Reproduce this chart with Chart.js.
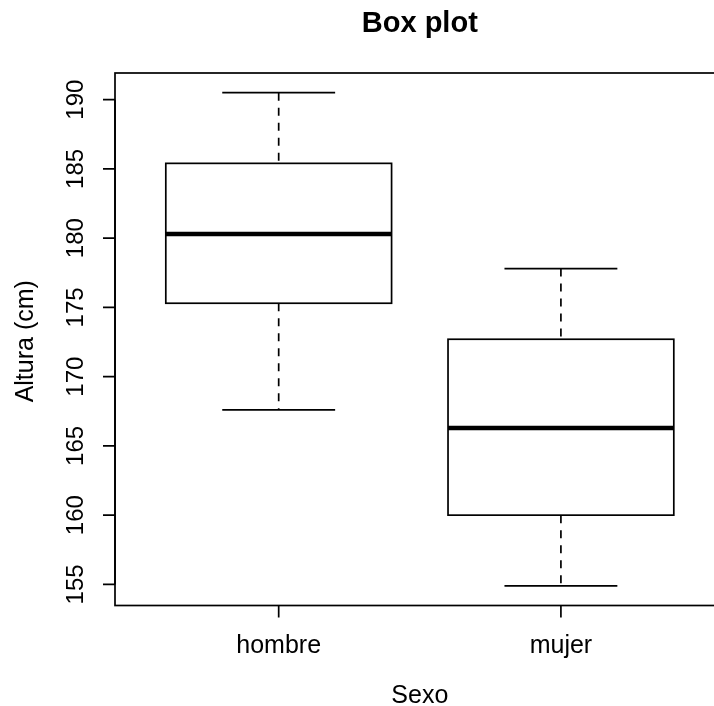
<!DOCTYPE html>
<html>
<head>
<meta charset="utf-8">
<title>Box plot</title>
<script src="https://cdn.jsdelivr.net/npm/chart.js@4"></script>
<style>
  html, body { margin: 0; padding: 0; background: #fff; overflow: hidden; }
  #wrap { width: 714px; height: 706px; overflow: hidden; }
  canvas { display: block; }
</style>
</head>
<body>
<div id="wrap">
  <canvas id="chart" width="740" height="706"></canvas>
</div>
<script>
// box plot summary per group
const categories = ["hombre", "mujer"];
const lowerWhisker = [167.6, 154.9];
const q1 = [175.3, 160.0];
const median = [180.3, 166.3];
const q3 = [185.4, 172.7];
const upperWhisker = [190.5, 177.8];
const yTicks = [155, 160, 165, 170, 175, 180, 185, 190];

const FONT = '"Liberation Sans", Arial, Helvetica, sans-serif';

// R style range: data range plus 4% on each side
const dataMin = Math.min(...lowerWhisker);
const dataMax = Math.max(...upperWhisker);
const pad = (dataMax - dataMin) * 0.04;

const boxWidth = 0.8;

const boxPlotPlugin = {
  id: 'boxPlot',
  afterDraw(chart) {
    const ctx = chart.ctx;
    const x = chart.scales.x;
    const y = chart.scales.y;
    const area = chart.chartArea;

    ctx.save();
    ctx.strokeStyle = '#000';
    ctx.fillStyle = '#000';

    categories.forEach((cat, i) => {
      const cx = x.getPixelForValue(i + 1);
      const left = x.getPixelForValue(i + 1 - boxWidth / 2);
      const right = x.getPixelForValue(i + 1 + boxWidth / 2);
      const capL = x.getPixelForValue(i + 1 - boxWidth / 4);
      const capR = x.getPixelForValue(i + 1 + boxWidth / 4);

      // dashed whiskers
      ctx.lineWidth = 1.7;
      ctx.setLineDash([8, 7]);
      ctx.beginPath();
      ctx.moveTo(cx, y.getPixelForValue(upperWhisker[i]));
      ctx.lineTo(cx, y.getPixelForValue(q3[i]));
      ctx.moveTo(cx, y.getPixelForValue(q1[i]));
      ctx.lineTo(cx, y.getPixelForValue(lowerWhisker[i]));
      ctx.stroke();
      ctx.setLineDash([]);

      // staples
      ctx.beginPath();
      ctx.moveTo(capL, y.getPixelForValue(upperWhisker[i]));
      ctx.lineTo(capR, y.getPixelForValue(upperWhisker[i]));
      ctx.moveTo(capL, y.getPixelForValue(lowerWhisker[i]));
      ctx.lineTo(capR, y.getPixelForValue(lowerWhisker[i]));
      ctx.stroke();

      // box
      const top = y.getPixelForValue(q3[i]);
      const bottom = y.getPixelForValue(q1[i]);
      ctx.strokeRect(left, top, right - left, bottom - top);

      // median
      ctx.lineWidth = 4.5;
      ctx.beginPath();
      ctx.moveTo(left, y.getPixelForValue(median[i]));
      ctx.lineTo(right, y.getPixelForValue(median[i]));
      ctx.stroke();
    });

    // frame
    ctx.lineWidth = 1.7;
    ctx.strokeRect(area.left, area.top, area.right - area.left, area.bottom - area.top);

    // y axis ticks + rotated labels
    ctx.font = '24px ' + FONT;
    ctx.textAlign = 'center';
    ctx.textBaseline = 'alphabetic';
    ctx.beginPath();
    ctx.moveTo(area.left, y.getPixelForValue(yTicks[0]));
    ctx.lineTo(area.left, y.getPixelForValue(yTicks[yTicks.length - 1]));
    yTicks.forEach((t) => {
      const py = y.getPixelForValue(t);
      ctx.moveTo(area.left, py);
      ctx.lineTo(area.left - 12, py);
    });
    ctx.stroke();
    yTicks.forEach((t) => {
      const py = y.getPixelForValue(t);
      ctx.save();
      ctx.translate(83, py);
      ctx.rotate(-Math.PI / 2);
      ctx.fillText(String(t), 0, 0);
      ctx.restore();
    });

    // x axis ticks + labels
    ctx.beginPath();
    categories.forEach((cat, i) => {
      const px = x.getPixelForValue(i + 1);
      ctx.moveTo(px, area.bottom);
      ctx.lineTo(px, area.bottom + 12);
    });
    ctx.stroke();
    ctx.font = '25px ' + FONT;
    categories.forEach((cat, i) => {
      ctx.fillText(cat, x.getPixelForValue(i + 1), 653);
    });

    // titles
    const midX = (area.left + area.right) / 2;
    const midY = (area.top + area.bottom) / 2;
    ctx.fillText('Sexo', midX, 703);

    ctx.save();
    ctx.translate(33, midY + 2);
    ctx.rotate(-Math.PI / 2);
    ctx.fillText('Altura (cm)', 0, 0);
    ctx.restore();

    ctx.font = 'bold 29px ' + FONT;
    ctx.fillText('Box plot', midX, 32);

    ctx.restore();
  }
};

new Chart(document.getElementById('chart'), {
  type: 'scatter',
  data: {
    datasets: [{
      data: categories.map((c, i) => ({ x: i + 1, y: median[i] })),
      pointRadius: 0,
      showLine: false
    }]
  },
  options: {
    responsive: false,
    animation: false,
    devicePixelRatio: 1,
    layout: { padding: { left: 115, top: 73, right: 15.4, bottom: 100.5 } },
    plugins: { legend: { display: false }, tooltip: { enabled: false } },
    scales: {
      x: { type: 'linear', min: 0.42, max: 2.58, display: false },
      y: { type: 'linear', min: dataMin - pad, max: dataMax + pad, display: false }
    }
  },
  plugins: [boxPlotPlugin]
});
</script>
</body>
</html>
